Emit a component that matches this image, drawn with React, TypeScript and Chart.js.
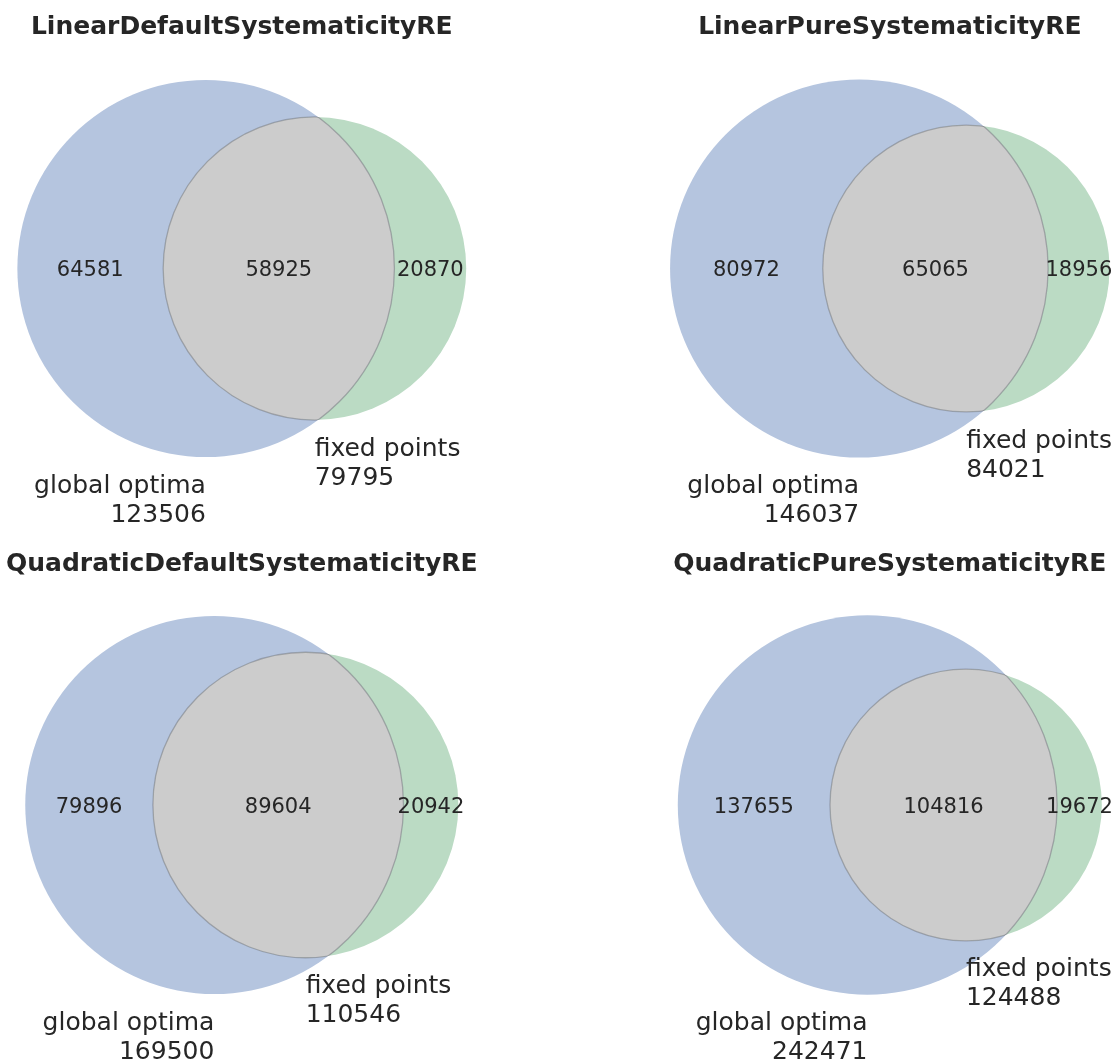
import React, { useEffect, useRef } from "react";
import { Chart, registerables } from "chart.js";

Chart.register(...registerables);

// ---- data ----
const titles = [
  "LinearDefaultSystematicityRE",
  "LinearPureSystematicityRE",
  "QuadraticDefaultSystematicityRE",
  "QuadraticPureSystematicityRE",
];
const setNames = ["global optima", "fixed points"];
const onlyA = [64581, 80972, 79896, 137655];
const both = [58925, 65065, 89604, 104816];
const onlyB = [20870, 18956, 20942, 19672];

// ---- geometry (area-proportional Venn, like matplotlib_venn) ----
function lensArea(r1: number, r2: number, d: number): number {
  if (d >= r1 + r2) return 0;
  if (d <= Math.abs(r1 - r2)) return Math.PI * Math.min(r1, r2) ** 2;
  const a1 = Math.acos((d * d + r1 * r1 - r2 * r2) / (2 * d * r1));
  const a2 = Math.acos((d * d + r2 * r2 - r1 * r1) / (2 * d * r2));
  const k = Math.sqrt((-d + r1 + r2) * (d + r1 - r2) * (d - r1 + r2) * (d + r1 + r2));
  return r1 * r1 * a1 + r2 * r2 * a2 - 0.5 * k;
}
function solveDistance(r1: number, r2: number, target: number): number {
  let lo = Math.abs(r1 - r2);
  let hi = r1 + r2;
  for (let i = 0; i < 200; i++) {
    const mid = (lo + hi) / 2;
    if (lensArea(r1, r2, mid) > target) lo = mid;
    else hi = mid;
  }
  return (lo + hi) / 2;
}
function geometry(i: number) {
  const total = onlyA[i] + both[i] + onlyB[i];
  const sizeA = onlyA[i] + both[i];
  const sizeB = onlyB[i] + both[i];
  const r1 = Math.sqrt(sizeA / total / Math.PI);
  const r2 = Math.sqrt(sizeB / total / Math.PI);
  const d = solveDistance(r1, r2, both[i] / total);
  return { r1, r2, d, sizeA, sizeB };
}

const FONT = '"DejaVu Sans", "Liberation Sans", sans-serif';
const TEXT = "#262626";
const BLUE = "#b5c5df";
const GREEN = "#bbdbc4";
const GRAY = "#cccccc";
const EDGE = "rgba(105,105,115,0.45)";

const AXES_H = 449.3;
const CANVAS_W = 560;

type Slot = { left: number; top: number; height: number; centerX: number; centerY: number; titleBaseline: number };
const slots: Slot[] = [
  { left: 0, top: 0, height: 531, centerX: 241.8, centerY: 268.5, titleBaseline: 36.5 },
  { left: 560, top: 0, height: 531, centerX: 329.8, centerY: 268.5, titleBaseline: 36.5 },
  { left: 0, top: 531, height: 532, centerX: 241.8, centerY: 274, titleBaseline: 42.5 },
  { left: 560, top: 531, height: 532, centerX: 329.8, centerY: 274, titleBaseline: 42.5 },
];

function VennPanel({ index }: { index: number }) {
  const ref = useRef<HTMLCanvasElement | null>(null);
  const slot = slots[index];

  useEffect(() => {
    if (!ref.current) return;
    const g = geometry(index);
    const rmax = Math.max(g.r1, g.r2);
    const s = AXES_H / (2 * rmax + 0.2);
    const chartTop = slot.centerY - AXES_H / 2;
    const chartBottom = slot.centerY + AXES_H / 2;
    const titleLine = 30;
    const titleMiddle = slot.titleBaseline - 8.65;
    const padTop = titleMiddle - titleLine / 2;
    const padBottom = chartTop - padTop - titleLine;

    // chart area horizontally centred on the panel centre
    const halfW = Math.min(slot.centerX, CANVAS_W - slot.centerX);
    const padLeft = slot.centerX - halfW;
    const padRight = CANVAS_W - (slot.centerX + halfW);
    const areaW = 2 * halfW;

    const minX = Math.min(-g.r1, g.d - g.r2);
    const maxX = Math.max(g.r1, g.d + g.r2);
    const xc = (minX + maxX) / 2;
    const xmin = xc - halfW / s;
    const xmax = xmin + areaW / s;
    const yhalf = AXES_H / 2 / s;

    const vennPlugin = {
      id: "venn" + index,
      afterDatasetsDraw(chart: any) {
        const ctx = chart.ctx as CanvasRenderingContext2D;
        const xs = chart.scales.x;
        const ys = chart.scales.y;
        const c1x = xs.getPixelForValue(0);
        const cy = ys.getPixelForValue(0);
        const c2x = xs.getPixelForValue(g.d);
        const R1 = Math.abs(xs.getPixelForValue(g.r1) - c1x);
        const R2 = Math.abs(xs.getPixelForValue(g.d + g.r2) - c2x);
        const circ = (x: number, r: number) => {
          ctx.beginPath();
          ctx.arc(x, cy, r, 0, Math.PI * 2);
          ctx.closePath();
        };
        ctx.save();
        circ(c1x, R1);
        ctx.fillStyle = BLUE;
        ctx.fill();
        circ(c2x, R2);
        ctx.fillStyle = GREEN;
        ctx.fill();
        // intersection
        ctx.save();
        circ(c1x, R1);
        ctx.clip();
        circ(c2x, R2);
        ctx.fillStyle = GRAY;
        ctx.fill();
        ctx.strokeStyle = EDGE;
        ctx.lineWidth = 1.3;
        ctx.stroke();
        ctx.restore();
        ctx.save();
        circ(c2x, R2);
        ctx.clip();
        circ(c1x, R1);
        ctx.strokeStyle = EDGE;
        ctx.lineWidth = 1.3;
        ctx.stroke();
        ctx.restore();

        // subset labels
        ctx.fillStyle = TEXT;
        ctx.font = "21px " + FONT;
        ctx.textAlign = "center";
        ctx.textBaseline = "alphabetic";
        const p = (v: number) => xs.getPixelForValue(v);
        const lA = (p(-g.r1) + p(g.d - g.r2)) / 2;
        const lAB = (p(g.d - g.r2) + p(g.r1)) / 2;
        const lB = (p(g.r1) + p(g.d + g.r2)) / 2;
        const by = cy + 7.5;
        ctx.fillText(String(onlyA[index]), lA, by);
        ctx.fillText(String(both[index]), lAB, by);
        ctx.fillText(String(onlyB[index]), lB, by);

        // set labels
        ctx.font = "25px " + FONT;
        const yA = ys.getPixelForValue(-g.r1 - 0.04) + 21.5;
        const yB = ys.getPixelForValue(-g.r2 - 0.04) + 21.5;
        ctx.textAlign = "right";
        ctx.fillText(setNames[0], c1x, yA);
        ctx.fillText(String(g.sizeA), c1x, yA + 29);
        ctx.textAlign = "left";
        ctx.fillText(setNames[1], c2x, yB);
        ctx.fillText(String(g.sizeB), c2x, yB + 29);
        ctx.restore();
      },
    };

    const chart = new Chart(ref.current, {
      type: "scatter",
      data: {
        datasets: [
          {
            data: [
              { x: 0, y: 0 },
              { x: g.d, y: 0 },
            ],
            pointRadius: 0,
            pointHoverRadius: 0,
          },
        ],
      },
      options: {
        responsive: false,
        animation: false,
        events: [],
        layout: { padding: { left: padLeft, right: padRight, top: 0, bottom: slot.height - chartBottom } },
        scales: {
          x: { type: "linear", display: false, min: xmin, max: xmax },
          y: { type: "linear", display: false, min: -yhalf, max: yhalf },
        },
        plugins: {
          legend: { display: false },
          tooltip: { enabled: false },
          title: {
            display: true,
            text: titles[index],
            color: TEXT,
            font: { family: FONT, size: 25, weight: "bold", lineHeight: titleLine / 25 },
            padding: { top: padTop, bottom: padBottom },
          },
        },
      },
      plugins: [vennPlugin],
    });
    return () => chart.destroy();
  }, [index]);

  return (
    <canvas
      ref={ref}
      width={CANVAS_W}
      height={slot.height}
      style={{ position: "absolute", left: slot.left, top: slot.top, width: CANVAS_W, height: slot.height }}
    />
  );
}

export default function App() {
  return (
    <div style={{ position: "absolute", left: 0, top: 0, width: 1120, height: 1063, background: "#ffffff", overflow: "hidden" }}>
      {titles.map((_, i) => (
        <VennPanel key={i} index={i} />
      ))}
    </div>
  );
}
